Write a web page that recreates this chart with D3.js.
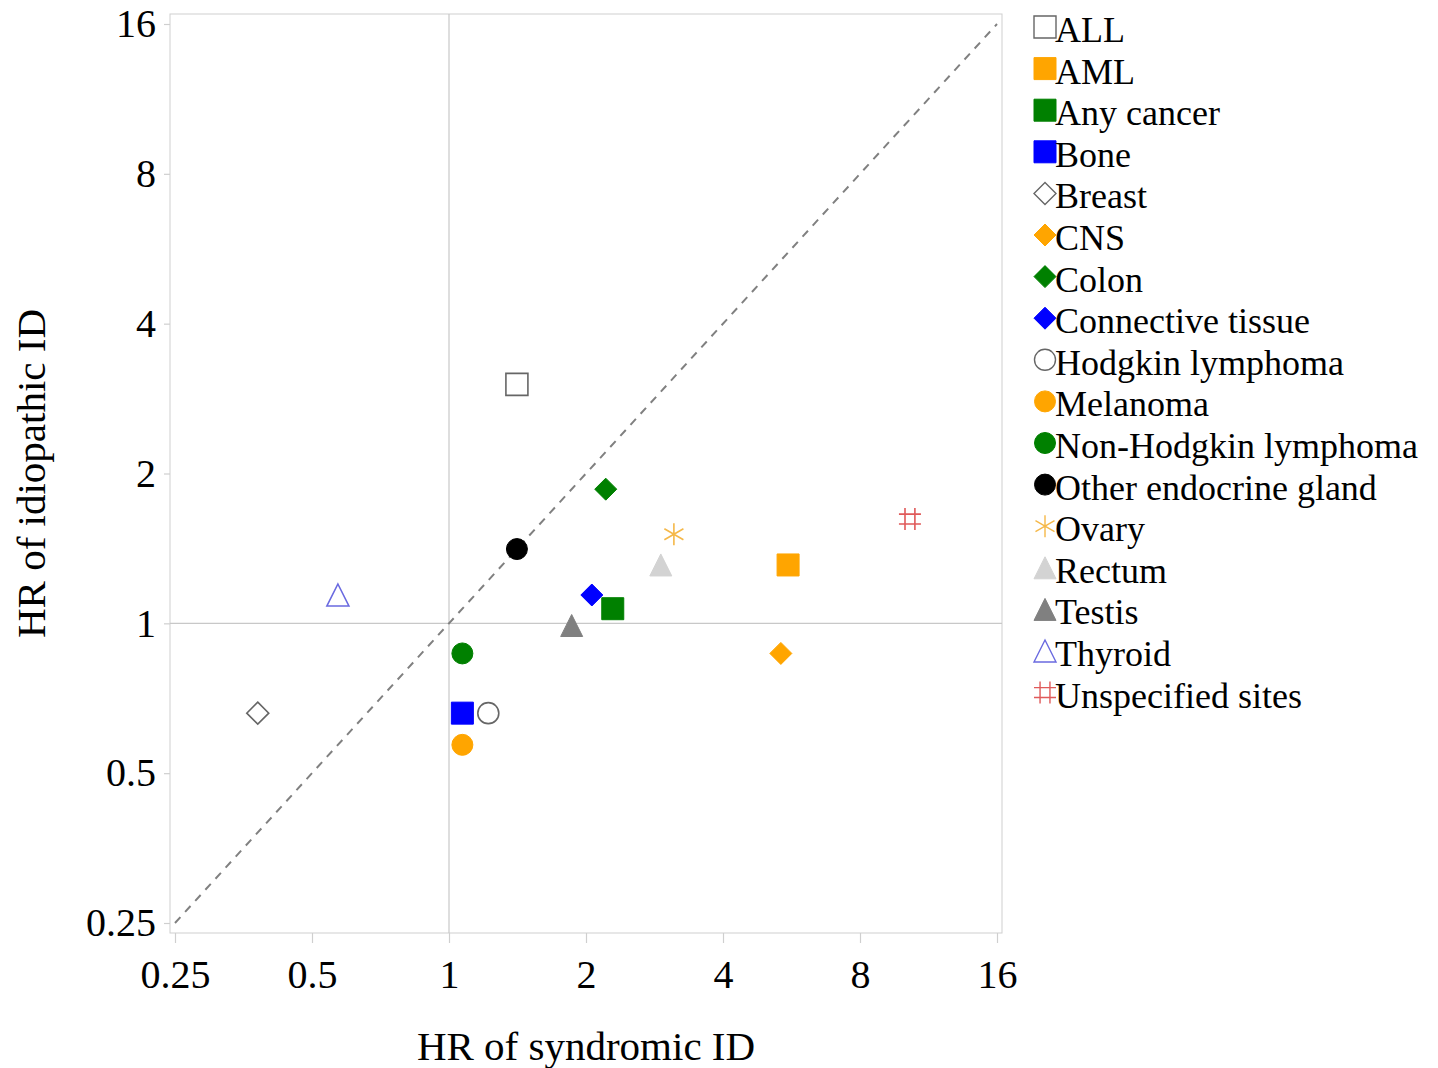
<!DOCTYPE html>
<html lang="en">
<head>
<meta charset="UTF-8">
<title>HR of syndromic vs idiopathic ID</title>
<script src="https://d3js.org/d3.v7.min.js"></script>
<style>
  body { margin: 0; background: #fff; }
  text { font-family: 'Liberation Serif', 'Times New Roman', serif; fill: #000; }
</style>
</head>
<body>
<script>
// Cancer sites and their hazard ratios
const sites = ["ALL", "AML", "Any cancer", "Bone", "Breast", "CNS", "Colon", "Connective tissue",
  "Hodgkin lymphoma", "Melanoma", "Non-Hodgkin lymphoma", "Other endocrine gland", "Ovary",
  "Rectum", "Testis", "Thyroid", "Unspecified sites"];
const hrSyndromic = [1.41, 5.56, 2.29, 1.07, 0.38, 5.36, 2.21, 2.06, 1.22, 1.07, 1.07, 1.41, 3.12, 2.92, 1.86, 0.57, 10.3];
const hrIdiopathic = [3.02, 1.31, 1.07, 0.66, 0.66, 0.87, 1.86, 1.14, 0.66, 0.57, 0.87, 1.41, 1.51, 1.31, 0.99, 1.14, 1.62];
const tickValues = [0.25, 0.5, 1, 2, 4, 8, 16];

// marker style per site: shape, fill, stroke
const shapes = ["square", "square", "square", "square", "diamond", "diamond", "diamond", "diamond",
  "circle", "circle", "circle", "circle", "star", "triangle", "triangle", "triangle", "hash"];
const fills = ["none", "#FFA500", "#008000", "#0000FF", "none", "#FFA500", "#008000", "#0000FF",
  "none", "#FFA500", "#008000", "#000000", "none", "#D3D3D3", "#808080", "none", "none"];
const strokes = ["#666", "#FFA500", "#008000", "#0000FF", "#666", "#FFA500", "#008000", "#0000FF",
  "#666", "#FFA500", "#008000", "#000000", "#F5B849", "#D3D3D3", "#808080", "#6A6AE0", "#E05A5A"];

const data = sites.map((s, i) => ({ site: s, x: hrSyndromic[i], y: hrIdiopathic[i], shape: shapes[i], fill: fills[i], stroke: strokes[i] }));

const W = 1438, H = 1068;
const box = { left: 170, right: 1002, top: 14, bottom: 933 };

const svg = d3.select("body").append("svg").attr("width", W).attr("height", H);

const x = d3.scaleLog().base(2).domain([0.25, 16]).range([175, 997]);
const y = d3.scaleLog().base(2).domain([0.25, 16]).range([923, 24]);

// frame
svg.append("rect")
  .attr("x", box.left).attr("y", box.top)
  .attr("width", box.right - box.left).attr("height", box.bottom - box.top)
  .attr("fill", "none").attr("stroke", "#cfcfcf").attr("stroke-width", 1);

// reference lines at HR = 1
svg.append("line")
  .attr("x1", x(1)).attr("x2", x(1)).attr("y1", box.top).attr("y2", box.bottom)
  .attr("stroke", "#c8c8c8").attr("stroke-width", 1.2);
svg.append("line")
  .attr("x1", box.left).attr("x2", box.right).attr("y1", y(1)).attr("y2", y(1))
  .attr("stroke", "#c8c8c8").attr("stroke-width", 1.2);

// diagonal
svg.append("line")
  .attr("x1", x(0.25)).attr("y1", y(0.25)).attr("x2", x(16)).attr("y2", y(16))
  .attr("stroke", "#808080").attr("stroke-width", 2).attr("stroke-dasharray", "8,7");

// axes
const fmt = d => String(d);
const xAxis = svg.append("g")
  .attr("transform", `translate(0,${box.bottom})`)
  .call(d3.axisBottom(x).tickValues(tickValues).tickFormat(fmt).tickSize(10).tickPadding(17));
const yAxis = svg.append("g")
  .attr("transform", `translate(${box.left},0)`)
  .call(d3.axisLeft(y).tickValues(tickValues).tickFormat(fmt).tickSize(6).tickPadding(8));

[xAxis, yAxis].forEach(g => {
  g.select(".domain").remove();
  g.selectAll(".tick line").attr("stroke", "#cfcfcf").attr("stroke-width", 1.2);
  g.selectAll(".tick text").attr("font-size", 40).attr("fill", "#000");
});

// axis titles
svg.append("text")
  .attr("x", (box.left + box.right) / 2).attr("y", 1060)
  .attr("text-anchor", "middle").attr("font-size", 41)
  .text("HR of syndromic ID");
svg.append("text")
  .attr("transform", `translate(45,${(box.top + box.bottom) / 2}) rotate(-90)`)
  .attr("text-anchor", "middle").attr("font-size", 41)
  .text("HR of idiopathic ID");

// marker path generator
function markerPath(shape, s) {
  const h = s / 2;
  if (shape === "square") return `M${-h},${-h}H${h}V${h}H${-h}Z`;
  if (shape === "diamond") return `M0,${-h}L${h},0L0,${h}L${-h},0Z`;
  if (shape === "circle") return `M${h},0A${h},${h} 0 1,1 ${-h},0A${h},${h} 0 1,1 ${h},0Z`;
  if (shape === "triangle") return `M0,${-h}L${h},${h}L${-h},${h}Z`;
  if (shape === "star") {
    let p = "";
    for (let k = 0; k < 3; k++) {
      const a = Math.PI / 2 + k * Math.PI / 3;
      p += `M${h * Math.cos(a)},${-h * Math.sin(a)}L${-h * Math.cos(a)},${h * Math.sin(a)}`;
    }
    return p;
  }
  if (shape === "hash") {
    const q = h * 0.45;
    return `M${-q},${-h}V${h}M${q},${-h}V${h}M${-h},${-q}H${h}M${-h},${q}H${h}`;
  }
}
function markerSize(d) {
  return d.shape === "circle" ? 21 : 22;
}

svg.append("g").selectAll("path")
  .data(data)
  .join("path")
  .attr("transform", d => `translate(${x(d.x)},${y(d.y)})`)
  .attr("d", d => markerPath(d.shape, markerSize(d)))
  .attr("fill", d => d.fill)
  .attr("stroke", d => d.stroke)
  .attr("stroke-width", d => (d.fill === "none" ? 1.6 : 1));

// legend
const legend = svg.append("g").attr("transform", "translate(1045,27)");
const row = legend.selectAll("g")
  .data(data)
  .join("g")
  .attr("transform", (d, i) => `translate(0,${i * 41.6})`);
row.append("path")
  .attr("d", d => markerPath(d.shape, markerSize(d)))
  .attr("fill", d => d.fill)
  .attr("stroke", d => d.stroke)
  .attr("stroke-width", d => (d.fill === "none" ? 1.4 : 1));
row.append("text")
  .attr("x", 10).attr("y", 15)
  .attr("font-size", 36)
  .text(d => d.site);
</script>
</body>
</html>
